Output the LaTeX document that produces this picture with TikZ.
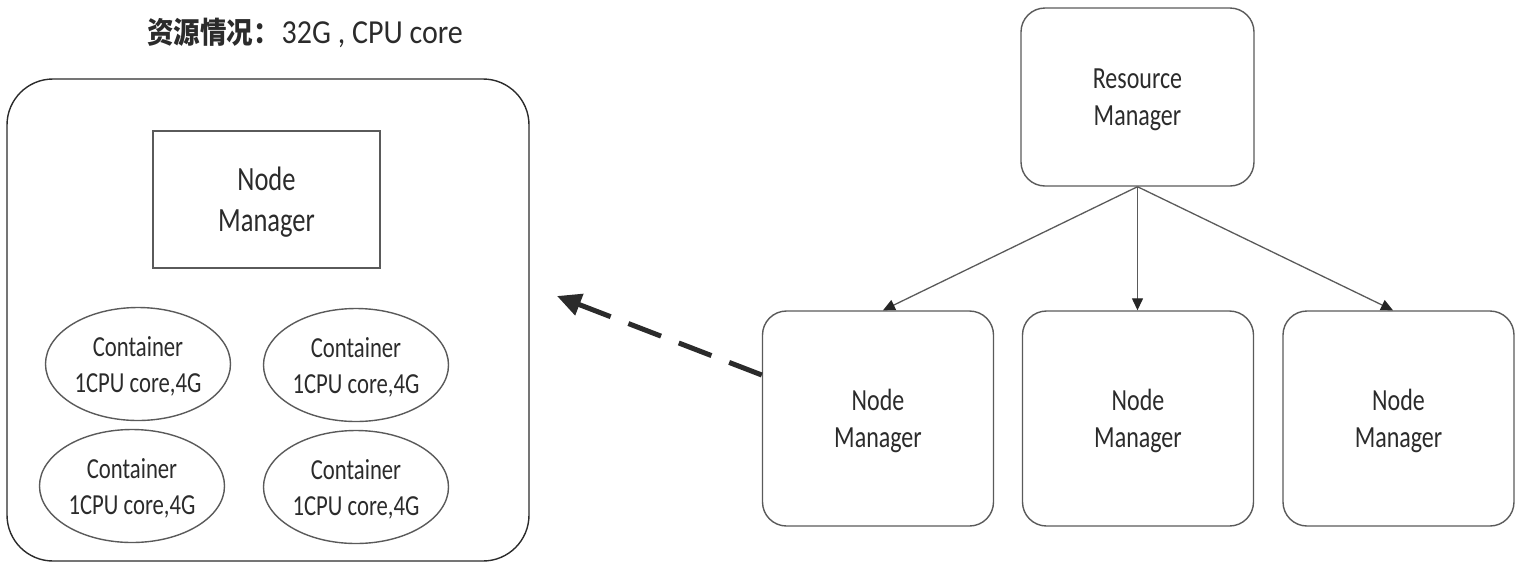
\documentclass[tikz,border=0pt]{standalone}
\usepackage{fontspec}
\usepackage{graphicx}
\setmainfont{Carlito}
\newfontfamily\cjk{Noto Sans CJK SC}
\usetikzlibrary{shapes.geometric,arrows.meta,calc}
\newsavebox\vtbox
\newcommand\vtx[1]{\sbox\vtbox{\scalebox{1}[1.28]{\begin{tabular}{@{}c@{}}#1\end{tabular}}}\raisebox{-3pt}[\ht\vtbox][\dp\vtbox]{\usebox\vtbox}}
\definecolor{txt}{HTML}{2B2B2B}
\definecolor{ln}{HTML}{5A5A5A}
\tikzset{
  rbox/.style={draw=ln, line width=1.4pt, rounded corners=24pt, minimum width=231pt, minimum height=215pt, inner sep=0pt, text=txt, font=\fontsize{24}{29}\selectfont},
  cont/.style={draw=ln, line width=1.4pt, ellipse, minimum width=185pt, minimum height=113pt, inner sep=0pt, text=txt, font=\fontsize{22.7}{28}\selectfont},
  conn/.style={draw=ln, line width=1.3pt, -{Triangle[length=12pt,width=11pt,color=black!85]}}
}
\begin{document}
\begin{tikzpicture}[x=1pt,y=-1pt]
\useasboundingbox (0,0) rectangle (1521,566);
% title
\node[anchor=west, text=txt, inner sep=0pt] (title) at (147,33) {\scalebox{1}[1.12]{{\cjk\bfseries\fontsize{26.5}{30}\selectfont 资源情况：}\hspace{2pt}{\fontsize{30}{34}\selectfont 32G , CPU core}}};
% left big box
\node[draw=txt, line width=1.4pt, rounded corners=46pt, minimum width=522pt, minimum height=482pt, inner sep=0pt] (host) at (268,320) {};
\node[draw=ln, line width=1.4pt, minimum width=227pt, minimum height=137pt, inner sep=0pt, text=txt, font=\fontsize{26.5}{32}\selectfont] (nmin) at (266.5,199.5) {\vtx{Node\\Manager}};
\node[cont] (c1) at (138,364) {\vtx{Container\\1CPU core,4G}};
\node[cont] (c2) at (356,365) {\vtx{Container\\1CPU core,4G}};
\node[cont] (c3) at (132,486) {\vtx{Container\\1CPU core,4G}};
\node[cont] (c4) at (356,487) {\vtx{Container\\1CPU core,4G}};
% right
\node[rbox, minimum width=233pt, minimum height=178pt] (rm) at (1137.5,97) {\vtx{Resource\\Manager}};
\node[rbox] (nm1) at (878,418.5) {\vtx{Node\\Manager}};
\node[rbox] (nm2) at (1138,418.5) {\vtx{Node\\Manager}};
\node[rbox] (nm3) at (1398.5,418.5) {\vtx{Node\\Manager}};
\draw[conn] (rm.south) -- (nm1.north -| 883,0);
\draw[conn] (rm.south) -- (nm2.north -| rm.south);
\draw[conn] (rm.south) -- (nm3.north -| 1393,0);
% dashed arrow
\coordinate (dstart) at (763,375);
\coordinate (dend) at (557,296);
\draw[txt, line width=5pt, dash pattern=on 35pt off 19pt, -{Triangle[length=24pt,width=22pt]}] (nm1.west |- dstart) -- (dend);
\end{tikzpicture}
\end{document}
